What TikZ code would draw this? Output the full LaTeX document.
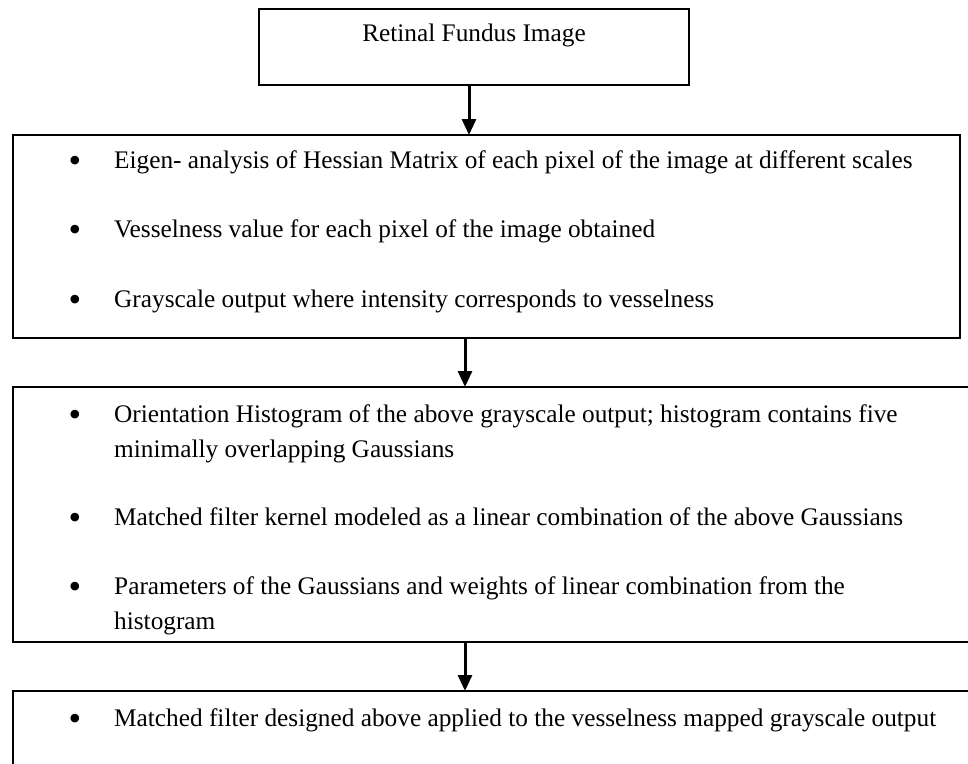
\documentclass[tikz,border=0pt]{standalone}
\usepackage{fontspec}
\setmainfont{Liberation Serif}
\usetikzlibrary{arrows.meta}
\begin{document}
\begin{tikzpicture}[x=1pt,y=-1pt,
  box/.style={draw=black, line width=2pt, inner sep=0pt, outer sep=0pt, anchor=north west},
  arr/.style={line width=3pt, -{Triangle[width=14pt,length=16pt]}},
  txt/.style={anchor=base west, inner sep=0pt, font=\fontsize{25.3}{35}\selectfont, align=left},
  ttl/.style={anchor=base, inner sep=0pt, font=\fontsize{25.3}{35}\selectfont},
  bul/.style={anchor=base, inner sep=0pt, font=\fontsize{36}{36}\selectfont}]
\useasboundingbox[fill=white] (0,0) rectangle (968,763);
\clip (0,0) rectangle (968,763);
% boxes
\node[box, minimum width=430pt, minimum height=76pt] (b1) at (259,9) {};
\node[box, minimum width=947pt, minimum height=203pt] (b2) at (13,135) {};
\node[box, minimum width=980pt, minimum height=255pt] (b3) at (13,387) {};
\node[box, minimum width=980pt, minimum height=100pt] (b4) at (13,691) {};
% connector columns
\coordinate (c1) at (469,0);
\coordinate (c2) at (465,0);
% texts
\node[ttl] (t1) at (474,41) {Retinal Fundus Image};
\node[bul] (p1) at (75,172) {•};
\node[txt] (s1) at (114,168) {Eigen- analysis of Hessian Matrix of each pixel of the image at different scales};
\node[bul] (p2) at (75,241) {•};
\node[txt] (s2) at (114,237) {Vesselness value for each pixel of the image obtained};
\node[bul] (p3) at (75,311) {•};
\node[txt] (s3) at (114,307) {Grayscale output where intensity corresponds to vesselness};
\node[bul] (p4) at (75,426) {•};
\node[txt] (s4) at (114,457) {Orientation Histogram of the above grayscale output; histogram contains five\\minimally overlapping Gaussians};
\node[bul] (p5) at (75,529) {•};
\node[txt] (s5) at (114,525) {Matched filter kernel modeled as a linear combination of the above Gaussians};
\node[bul] (p6) at (75,598) {•};
\node[txt] (s6) at (114,629) {Parameters of the Gaussians and weights of linear combination from the\\histogram};
\node[bul] (p7) at (75,730) {•};
\node[txt] (s7) at (114,726) {Matched filter designed above applied to the vesselness mapped grayscale output};
% connectors
\draw[arr] (b1.south -| c1) -- (b2.north -| c1);
\draw[arr] (b2.south -| c2) -- (b3.north -| c2);
\draw[arr] (b3.south -| c2) -- (b4.north -| c2);
\end{tikzpicture}
\end{document}
